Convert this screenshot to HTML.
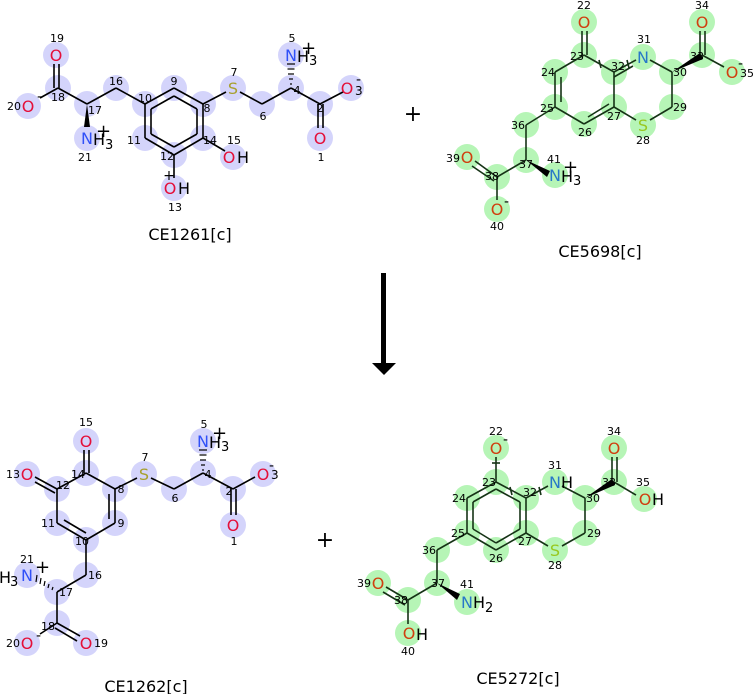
<!DOCTYPE html>
<html><head><meta charset="utf-8"><style>
html,body{margin:0;padding:0;background:#fff;}
svg{display:block;font-family:"DejaVu Sans","Liberation Sans",sans-serif;}
.n{font-size:11px;fill:#000;text-anchor:middle;}
.e{font-size:16px;text-anchor:middle;}
.a{fill:#d4d4fb;}
.g{fill:#b6f5b6;}
.b line{stroke:#000;stroke-width:1.6;}
.bg line{stroke:#163316;stroke-width:1.6;}
.O{fill:#e4103a;} .N{fill:#3050f8;} .S{fill:#a8a030;}
.O2{fill:#d04010;} .N2{fill:#2878c8;} .S2{fill:#98c820;}
.t{font-size:16px;text-anchor:middle;fill:#000;}
</style></head><body>
<svg width="754" height="694" viewBox="0 0 754 694">
<!-- ===== Molecule 1 ===== -->
<g>
<circle class="a" cx="56" cy="55" r="13"/><circle class="a" cx="58" cy="88" r="13"/><circle class="a" cx="28" cy="106" r="13"/>
<circle class="a" cx="87" cy="104" r="13"/><circle class="a" cx="87" cy="138" r="13"/><circle class="a" cx="116" cy="88" r="13"/>
<circle class="a" cx="145" cy="104" r="13"/><circle class="a" cx="174" cy="88" r="13"/><circle class="a" cx="203" cy="104" r="13"/>
<circle class="a" cx="203" cy="138" r="13"/><circle class="a" cx="174" cy="155" r="13"/><circle class="a" cx="145" cy="138" r="13"/>
<circle class="a" cx="174" cy="188" r="13"/><circle class="a" cx="233" cy="157" r="13"/><circle class="a" cx="233" cy="88" r="13"/>
<circle class="a" cx="262" cy="104" r="13"/><circle class="a" cx="291" cy="55" r="13"/><circle class="a" cx="291" cy="88" r="13"/>
<circle class="a" cx="320" cy="104" r="13"/><circle class="a" cx="320" cy="138" r="13"/><circle class="a" cx="351" cy="88" r="13"/>
</g>
<g class="b">
<line x1="54" y1="64" x2="54" y2="88"/><line x1="59" y1="64" x2="59" y2="88"/>
<line x1="58" y1="88" x2="40" y2="98"/><line x1="58" y1="88" x2="87" y2="104"/>
<line x1="87" y1="104" x2="116" y2="88"/><line x1="116" y1="88" x2="145" y2="104"/>
<line x1="145" y1="104" x2="174" y2="88"/><line x1="174" y1="88" x2="203" y2="104"/><line x1="203" y1="104" x2="203" y2="138"/>
<line x1="203" y1="138" x2="174" y2="155"/><line x1="174" y1="155" x2="145" y2="138"/><line x1="145" y1="138" x2="145" y2="104"/>
<line x1="174" y1="96" x2="197" y2="109"/><line x1="197" y1="109" x2="197" y2="134"/><line x1="197" y1="134" x2="174" y2="147"/>
<line x1="174" y1="147" x2="151" y2="134"/><line x1="151" y1="134" x2="151" y2="109"/><line x1="151" y1="109" x2="174" y2="96"/>
<line x1="174" y1="155" x2="174" y2="178"/><line x1="203" y1="138" x2="225" y2="151"/>
<line x1="203" y1="104" x2="226" y2="92"/><line x1="240" y1="92" x2="262" y2="104"/><line x1="262" y1="104" x2="291" y2="88"/>
<line x1="291" y1="88" x2="320" y2="104"/><line x1="320" y1="104" x2="343" y2="92"/>
<line x1="318" y1="104" x2="318" y2="128"/><line x1="323" y1="104" x2="323" y2="128"/>
</g>
<polygon points="87,104 84,127 90,127" fill="#000"/>
<g stroke="#000" stroke-width="1.2">
<line x1="287" y1="64" x2="295" y2="64"/><line x1="287.5" y1="69" x2="294.5" y2="69"/><line x1="288" y1="74" x2="294" y2="74"/><line x1="289" y1="79" x2="293" y2="79"/><line x1="290" y1="84" x2="292" y2="84"/>
</g>
<g>
<text class="e O" x="56" y="61">O</text><text class="e O" x="28" y="112">O</text><text class="e N" x="87" y="144">N</text><text x="93" y="145" font-size="16">H</text><text x="105" y="149" font-size="13">3</text><text x="96" y="137" font-size="18">+</text>
<text x="37" y="101" font-size="14">-</text>
<text class="e O" x="170" y="194">O</text><text x="178" y="194" font-size="16">H</text><text x="169" y="180" font-size="14" text-anchor="middle">+</text>
<text class="e O" x="229" y="163">O</text><text x="237" y="163" font-size="16">H</text>
<text class="e S" x="233" y="94">S</text>
<text class="e N" x="291" y="61">N</text><text x="297" y="62" font-size="16">H</text><text x="309" y="65" font-size="13">3</text><text x="301" y="54" font-size="18">+</text>
<text class="e O" x="347" y="94">O</text><text x="355" y="95" font-size="12">3</text><text x="356" y="84" font-size="14">-</text>
<text class="e O" x="320" y="144">O</text>
</g>
<g>
<text class="n" x="57" y="42">19</text><text class="n" x="14" y="110">20</text><text class="n" x="58" y="101">18</text><text class="n" x="95" y="114">17</text>
<text class="n" x="85" y="161">21</text><text class="n" x="116" y="85">16</text><text class="n" x="145" y="102">10</text><text class="n" x="174" y="85">9</text>
<text class="n" x="207" y="112">8</text><text class="n" x="134" y="144">11</text><text class="n" x="167" y="160">12</text><text class="n" x="210" y="144">14</text>
<text class="n" x="234" y="144">15</text><text class="n" x="175" y="211">13</text><text class="n" x="234" y="76">7</text><text class="n" x="263" y="120">6</text>
<text class="n" x="292" y="42">5</text><text class="n" x="297" y="94">4</text><text class="n" x="320" y="112">2</text><text class="n" x="321" y="161">1</text>
</g>
<text class="t" x="190" y="240">CE1261[c]</text>

<!-- plus -->
<text x="413" y="121" font-size="22" text-anchor="middle">+</text>
<text x="325" y="547" font-size="22" text-anchor="middle">+</text>

<!-- ===== Molecule 2 ===== -->
<g>
<circle class="g" cx="584" cy="22" r="13"/><circle class="g" cx="584" cy="55" r="13"/><circle class="g" cx="555" cy="72" r="13"/>
<circle class="g" cx="555" cy="107" r="13"/><circle class="g" cx="584" cy="124" r="13"/><circle class="g" cx="614" cy="107" r="13"/>
<circle class="g" cx="614" cy="72" r="13"/><circle class="g" cx="643" cy="57" r="13"/><circle class="g" cx="672" cy="72" r="13"/>
<circle class="g" cx="672" cy="107" r="13"/><circle class="g" cx="643" cy="125" r="13"/><circle class="g" cx="702" cy="55" r="13"/>
<circle class="g" cx="702" cy="22" r="13"/><circle class="g" cx="732" cy="72" r="13"/><circle class="g" cx="526" cy="125" r="13"/>
<circle class="g" cx="526" cy="160" r="13"/><circle class="g" cx="497" cy="177" r="13"/><circle class="g" cx="467" cy="157" r="13"/>
<circle class="g" cx="497" cy="209" r="13"/><circle class="g" cx="555" cy="175" r="13"/>
</g>
<g class="bg">
<line x1="582" y1="31" x2="582" y2="55"/><line x1="587" y1="31" x2="587" y2="55"/>
<line x1="584" y1="55" x2="555" y2="72"/><line x1="555" y1="72" x2="555" y2="107"/><line x1="561" y1="77" x2="561" y2="102"/>
<line x1="555" y1="107" x2="584" y2="124"/><line x1="584" y1="124" x2="614" y2="107"/><line x1="588" y1="117" x2="609" y2="104"/>
<line x1="614" y1="107" x2="614" y2="72"/><line x1="614" y1="72" x2="584" y2="55"/>
<line x1="614" y1="72" x2="636" y2="60"/><line x1="614" y1="77" x2="633" y2="66"/>
<line x1="650" y1="60" x2="672" y2="72"/><line x1="672" y1="72" x2="672" y2="107"/><line x1="672" y1="107" x2="650" y2="120"/>
<line x1="636" y1="120" x2="614" y2="107"/>
<line x1="700" y1="31" x2="700" y2="55"/><line x1="705" y1="31" x2="705" y2="55"/><line x1="702" y1="55" x2="724" y2="67"/>
<line x1="555" y1="107" x2="526" y2="125"/><line x1="526" y1="125" x2="526" y2="160"/><line x1="526" y1="160" x2="497" y2="177"/>
<line x1="497" y1="177" x2="475" y2="161"/><line x1="494" y1="181" x2="472" y2="166"/><line x1="497" y1="177" x2="497" y2="200"/>
<line x1="599" y1="60" x2="601" y2="68"/><line x1="627" y1="60" x2="629" y2="68"/>
</g>
<polygon points="672,72 700,53 703,59" fill="#000"/>
<polygon points="526,160 550,171 547,177" fill="#000"/>
<g>
<text class="e O2" x="584" y="28">O</text><text class="e N2" x="643" y="63">N</text><text class="e O2" x="702" y="28">O</text>
<text class="e O2" x="732" y="78">O</text><text x="740" y="77" font-size="11">35</text><text x="738" y="68" font-size="14">-</text>
<text class="e S2" x="643" y="131">S</text><text class="e O2" x="467" y="163">O</text><text class="e O2" x="497" y="215">O</text><text x="504" y="206" font-size="14">-</text>
<text class="e N2" x="555" y="181">N</text><text x="561" y="182" font-size="16">H</text><text x="573" y="185" font-size="13">3</text><text x="563" y="173" font-size="18">+</text>
</g>
<g>
<text class="n" x="584" y="9">22</text><text class="n" x="577" y="60">23</text><text class="n" x="548" y="76">24</text><text class="n" x="547" y="112">25</text>
<text class="n" x="585" y="136">26</text><text class="n" x="614" y="120">27</text><text class="n" x="618" y="70">32</text><text class="n" x="644" y="43">31</text>
<text class="n" x="680" y="76">30</text><text class="n" x="680" y="111">29</text><text class="n" x="643" y="144">28</text><text class="n" x="702" y="9">34</text>
<text class="n" x="697" y="60">33</text><text class="n" x="518" y="129">36</text><text class="n" x="526" y="168">37</text><text class="n" x="492" y="180">38</text>
<text class="n" x="453" y="162">39</text><text class="n" x="497" y="230">40</text><text class="n" x="554" y="163">41</text>
</g>
<text class="t" x="600" y="257">CE5698[c]</text>

<!-- arrow -->
<rect x="381" y="273" width="5" height="90" fill="#000"/>
<polygon points="372,363 396,363 384,375" fill="#000"/>

<!-- ===== Molecule 3 ===== -->
<g>
<circle class="a" cx="86" cy="441" r="13"/><circle class="a" cx="86" cy="473" r="13"/><circle class="a" cx="57" cy="489" r="13"/>
<circle class="a" cx="27" cy="474" r="13"/><circle class="a" cx="57" cy="523" r="13"/><circle class="a" cx="86" cy="540" r="13"/>
<circle class="a" cx="115" cy="523" r="13"/><circle class="a" cx="115" cy="489" r="13"/><circle class="a" cx="144" cy="474" r="13"/>
<circle class="a" cx="174" cy="489" r="13"/><circle class="a" cx="203" cy="473" r="13"/><circle class="a" cx="203" cy="441" r="13"/>
<circle class="a" cx="233" cy="489" r="13"/><circle class="a" cx="233" cy="525" r="13"/><circle class="a" cx="263" cy="474" r="13"/>
<circle class="a" cx="86" cy="575" r="13"/><circle class="a" cx="57" cy="592" r="13"/><circle class="a" cx="27" cy="575" r="13"/>
<circle class="a" cx="57" cy="623" r="13"/><circle class="a" cx="27" cy="643" r="13"/><circle class="a" cx="86" cy="643" r="13"/>
</g>
<g class="b">
<line x1="84" y1="450" x2="84" y2="473"/><line x1="89" y1="450" x2="89" y2="473"/>
<line x1="86" y1="473" x2="57" y2="489"/><line x1="86" y1="473" x2="115" y2="489"/>
<line x1="57" y1="489" x2="35" y2="477"/><line x1="55" y1="493" x2="35" y2="482"/>
<line x1="57" y1="489" x2="57" y2="523"/><line x1="57" y1="523" x2="86" y2="540"/><line x1="64" y1="520" x2="86" y2="533"/>
<line x1="86" y1="540" x2="115" y2="523"/><line x1="115" y1="523" x2="115" y2="489"/><line x1="109" y1="519" x2="109" y2="494"/>
<line x1="115" y1="489" x2="137" y2="478"/><line x1="151" y1="478" x2="174" y2="489"/><line x1="174" y1="489" x2="203" y2="473"/>
<line x1="203" y1="473" x2="233" y2="489"/><line x1="233" y1="489" x2="255" y2="477"/>
<line x1="231" y1="489" x2="231" y2="515"/><line x1="236" y1="489" x2="236" y2="515"/>
<line x1="86" y1="540" x2="86" y2="575"/><line x1="86" y1="575" x2="57" y2="592"/><line x1="57" y1="592" x2="57" y2="623"/>
<line x1="57" y1="623" x2="40" y2="634"/><line x1="57" y1="623" x2="80" y2="636"/><line x1="55" y1="628" x2="77" y2="641"/>
</g>
<g stroke="#000" stroke-width="1.2">
<line x1="199" y1="450" x2="207" y2="450"/><line x1="199.5" y1="455" x2="206.5" y2="455"/><line x1="200" y1="460" x2="206" y2="460"/><line x1="201" y1="465" x2="205" y2="465"/><line x1="202" y1="470" x2="204" y2="470"/>
<line x1="37" y1="575" x2="36" y2="582"/><line x1="41" y1="578" x2="40" y2="584"/><line x1="45" y1="581" x2="44" y2="586"/><line x1="49" y1="584" x2="48" y2="588"/><line x1="53" y1="587" x2="52" y2="590"/>
</g>
<g>
<text class="e O" x="86" y="447">O</text><text class="e O" x="27" y="480">O</text><text class="e S" x="144" y="480">S</text>
<text class="e N" x="203" y="447">N</text><text x="209" y="448" font-size="16">H</text><text x="221" y="451" font-size="13">3</text><text x="212" y="439" font-size="18">+</text>
<text class="e O" x="263" y="480">O</text><text x="271" y="479" font-size="12">3</text><text x="269" y="470" font-size="14">-</text>
<text class="e O" x="233" y="531">O</text>
<text class="e N" x="27" y="581">N</text><text x="-1" y="583" font-size="16">H</text><text x="10" y="586" font-size="13">3</text><text x="35" y="573" font-size="18">+</text>
<text class="e O" x="27" y="649">O</text><text x="36" y="640" font-size="14">-</text><text class="e O" x="86" y="649">O</text>
</g>
<g>
<text class="n" x="86" y="426">15</text><text class="n" x="13" y="478">13</text><text class="n" x="78" y="478">14</text><text class="n" x="63" y="489">12</text>
<text class="n" x="48" y="527">11</text><text class="n" x="82" y="545">10</text><text class="n" x="121" y="527">9</text><text class="n" x="121" y="493">8</text>
<text class="n" x="145" y="461">7</text><text class="n" x="175" y="502">6</text><text class="n" x="204" y="428">5</text><text class="n" x="208" y="478">4</text>
<text class="n" x="229" y="495">2</text><text class="n" x="234" y="545">1</text><text class="n" x="27" y="563">21</text><text class="n" x="95" y="579">16</text>
<text class="n" x="66" y="596">17</text><text class="n" x="48" y="630">18</text><text class="n" x="13" y="647">20</text><text class="n" x="101" y="647">19</text>
</g>
<text class="t" x="146" y="692">CE1262[c]</text>

<!-- ===== Molecule 4 ===== -->
<g>
<circle class="g" cx="496" cy="448" r="13"/><circle class="g" cx="496" cy="482" r="13"/><circle class="g" cx="467" cy="498" r="13"/>
<circle class="g" cx="467" cy="533" r="13"/><circle class="g" cx="496" cy="550" r="13"/><circle class="g" cx="526" cy="533" r="13"/>
<circle class="g" cx="526" cy="498" r="13"/><circle class="g" cx="555" cy="482" r="13"/><circle class="g" cx="585" cy="498" r="13"/>
<circle class="g" cx="585" cy="533" r="13"/><circle class="g" cx="555" cy="550" r="13"/><circle class="g" cx="614" cy="482" r="13"/>
<circle class="g" cx="614" cy="448" r="13"/><circle class="g" cx="644" cy="499" r="13"/><circle class="g" cx="437" cy="550" r="13"/>
<circle class="g" cx="437" cy="583" r="13"/><circle class="g" cx="408" cy="600" r="13"/><circle class="g" cx="378" cy="583" r="13"/>
<circle class="g" cx="408" cy="633" r="13"/><circle class="g" cx="467" cy="602" r="13"/>
</g>
<g class="bg">
<line x1="496" y1="457" x2="496" y2="482"/>
<line x1="496" y1="482" x2="467" y2="498"/><line x1="467" y1="498" x2="467" y2="533"/><line x1="467" y1="533" x2="496" y2="550"/>
<line x1="496" y1="550" x2="526" y2="533"/><line x1="526" y1="533" x2="526" y2="498"/><line x1="526" y1="498" x2="496" y2="482"/>
<line x1="496" y1="489" x2="473" y2="502"/><line x1="473" y1="502" x2="473" y2="529"/><line x1="473" y1="529" x2="496" y2="543"/>
<line x1="496" y1="543" x2="520" y2="529"/><line x1="520" y1="529" x2="520" y2="502"/><line x1="520" y1="502" x2="496" y2="489"/>
<line x1="526" y1="498" x2="548" y2="486"/><line x1="562" y1="486" x2="585" y2="498"/><line x1="585" y1="498" x2="585" y2="533"/>
<line x1="585" y1="533" x2="562" y2="546"/><line x1="548" y1="546" x2="526" y2="533"/>
<line x1="612" y1="457" x2="612" y2="482"/><line x1="617" y1="457" x2="617" y2="482"/><line x1="614" y1="482" x2="636" y2="495"/>
<line x1="467" y1="533" x2="437" y2="550"/><line x1="437" y1="550" x2="437" y2="583"/><line x1="437" y1="583" x2="408" y2="600"/>
<line x1="408" y1="600" x2="386" y2="587"/><line x1="405" y1="605" x2="383" y2="592"/><line x1="408" y1="600" x2="408" y2="624"/>
<line x1="492" y1="463" x2="500" y2="463"/><line x1="510" y1="487" x2="512" y2="495"/><line x1="539" y1="487" x2="541" y2="495"/>
</g>
<polygon points="585,498 612,479 615,485" fill="#000"/>
<polygon points="437,583 460,594 457,600" fill="#000"/>
<g>
<text class="e O2" x="496" y="454">O</text><text x="503" y="444" font-size="14">-</text>
<text class="e N2" x="555" y="488">N</text><text x="561" y="488" font-size="16">H</text>
<text class="e O2" x="614" y="454">O</text><text class="e O2" x="645" y="505">O</text><text x="652" y="505" font-size="16">H</text>
<text class="e S2" x="555" y="556">S</text><text class="e O2" x="378" y="589">O</text>
<text class="e O2" x="409" y="639">O</text><text x="416" y="640" font-size="16">H</text>
<text class="e N2" x="467" y="608">N</text><text x="473" y="608" font-size="16">H</text><text x="485" y="612" font-size="13">2</text>
</g>
<g>
<text class="n" x="496" y="435">22</text><text class="n" x="489" y="486">23</text><text class="n" x="459" y="502">24</text><text class="n" x="458" y="537">25</text>
<text class="n" x="496" y="562">26</text><text class="n" x="525" y="545">27</text><text class="n" x="530" y="496">32</text><text class="n" x="555" y="469">31</text>
<text class="n" x="593" y="502">30</text><text class="n" x="594" y="537">29</text><text class="n" x="555" y="569">28</text><text class="n" x="614" y="435">34</text>
<text class="n" x="609" y="486">33</text><text class="n" x="643" y="486">35</text><text class="n" x="429" y="554">36</text><text class="n" x="438" y="587">37</text>
<text class="n" x="401" y="604">38</text><text class="n" x="364" y="587">39</text><text class="n" x="408" y="655">40</text><text class="n" x="467" y="588">41</text>
</g>
<text class="t" x="518" y="684">CE5272[c]</text>
</svg>
</body></html>
